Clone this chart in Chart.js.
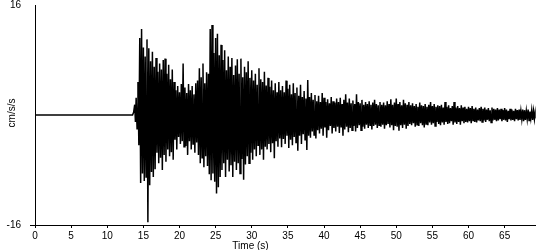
<!DOCTYPE html>
<html>
<head>
<meta charset="utf-8">
<script src="https://cdn.jsdelivr.net/npm/chart.js@4/dist/chart.umd.min.js"></script>
<style>
  html, body { margin: 0; padding: 0; background: #fff; }
  #wrap { width: 550px; height: 250px; }
</style>
</head>
<body>
<div id="wrap"><canvas id="c" width="550" height="250"></canvas></div>
<script>
// ---- data ----
const xTitle = 'Time (s)';
const yTitle = 'cm/s/s';
const xTicks = [0, 5, 10, 15, 20, 25, 30, 35, 40, 45, 50, 55, 60, 65];
const yTicks = [-16, 16];
const xMin = 0, xMax = 69.3, yMin = -16, yMax = 16;

// quiet part before the arrival: [time, value]
const preTimes  = [0, 13.5, 13.65, 13.8, 13.9];
const preValues = [0, 0, 0.4, 1.5, -1.0];

// strong motion, sampled every 0.25 s from 14.0 s: positive peaks and negative troughs
const startTime = 14.0;
const step = 0.25;
const peaks = [
  2.5, 4.8, 11.2, 12.5, 9.8, 8.5, 11.0, 9.7,
  7.8, 9.2, 7.0, 8.3, 6.3, 7.5, 6.6, 8.0,
  8.2, 6.0, 7.3, 5.2, 6.6, 4.8, 3.6, 4.2,
  3.3, 4.5, 7.5, 4.0, 3.2, 4.5, 3.6, 4.2,
  3.0, 4.6, 5.0, 6.8, 5.5, 7.5, 4.6, 6.2,
  6.0, 12.5, 13.1, 9.0, 11.2, 11.8, 8.7, 10.2,
  8.0, 9.4, 6.5, 8.5, 7.0, 8.3, 5.8, 7.2,
  8.1, 6.0, 8.2, 5.5, 7.0, 6.2, 7.8, 5.4,
  6.5, 5.0, 6.0, 4.4, 6.8, 5.2, 4.8, 6.3,
  4.3, 5.4, 4.1, 5.0, 3.6, 4.6, 3.3, 4.8,
  3.6, 4.2, 3.3, 5.0, 3.8, 4.4, 3.0, 4.6,
  3.2, 4.0, 2.8, 4.4, 2.6, 3.5, 2.4, 5.1,
  2.6, 3.2, 2.2, 2.9, 2.0, 2.8, 1.9, 3.2,
  2.5, 1.9, 2.3, 1.7, 2.6, 2.0, 1.8, 2.4,
  1.9, 2.5, 1.6, 2.2, 3.0, 1.8, 2.4, 1.7,
  2.1, 1.6, 3.0, 1.9, 1.7, 2.2, 1.5, 1.9,
  1.6, 2.0, 1.5, 1.8, 2.2, 1.6, 1.4, 1.9,
  1.5, 1.8, 1.4, 2.0, 1.6, 2.3, 1.5, 1.8,
  2.4, 1.6, 1.9, 1.4, 2.2, 1.7, 1.5, 1.9,
  1.4, 1.7, 1.3, 1.6, 1.2, 1.8, 1.4, 1.3,
  1.6, 1.2, 1.5, 1.9, 1.3, 1.6, 1.2, 1.4,
  1.3, 1.5, 1.1, 1.9, 1.2, 1.4, 1.0, 1.3,
  1.9, 1.1, 1.3, 1.0, 1.4, 1.1, 1.2, 0.9,
  1.2, 1.0, 1.3, 0.9, 1.1, 0.8, 1.0, 1.2,
  0.9, 1.1, 0.8, 1.0, 0.7, 1.1, 0.9, 0.8,
  1.0, 0.8, 0.9, 0.7, 1.0, 0.8, 0.6, 0.9,
  0.8, 0.6, 0.9, 0.7, 0.8, 0.6, 0.8, 0.7,
  0.6, 0.8, 0.5, 0.7, 0.6, 0.5
];
const troughs = [
  -2.0, -4.4, -9.9, -8.5, -9.6, -9.0, -15.6, -10.2,
  -8.3, -9.0, -7.9, -5.5, -7.0, -6.2, -8.0, -5.8,
  -6.8, -5.0, -6.0, -5.4, -6.5, -3.6, -5.0, -3.2,
  -4.2, -3.8, -4.6, -4.5, -5.8, -3.8, -5.0, -4.2,
  -5.5, -4.0, -5.8, -7.0, -6.2, -7.6, -6.0, -7.4,
  -8.6, -9.5, -8.5, -9.7, -11.4, -10.5, -9.0, -8.0,
  -7.0, -9.0, -6.5, -8.2, -7.3, -9.0, -6.8, -8.0,
  -7.0, -8.5, -6.4, -9.4, -7.2, -6.0, -7.0, -5.5,
  -6.5, -5.0, -6.0, -4.4, -5.8, -5.0, -6.5, -4.6,
  -5.0, -4.2, -5.4, -4.1, -6.3, -3.8, -4.6, -3.4,
  -4.7, -3.5, -4.2, -3.0, -4.8, -3.6, -4.4, -3.2,
  -4.0, -5.2, -3.0, -4.2, -2.8, -3.6, -5.1, -3.0,
  -3.3, -2.4, -2.9, -3.4, -2.2, -2.7, -2.0, -3.0,
  -1.8, -3.3, -2.2, -1.6, -2.7, -1.9, -2.4, -1.7,
  -2.6, -1.8, -3.0, -2.1, -1.7, -2.5, -1.9, -2.2,
  -1.6, -2.4, -1.9, -1.5, -2.2, -1.7, -2.0, -1.4,
  -1.9, -1.5, -2.1, -1.6, -1.4, -1.9, -1.5, -1.7,
  -1.4, -2.0, -1.5, -1.3, -1.8, -1.5, -2.2, -1.6,
  -1.7, -2.3, -1.5, -1.9, -1.4, -2.0, -1.6, -1.3,
  -1.5, -1.2, -1.7, -1.4, -1.6, -1.2, -1.5, -1.8,
  -1.3, -1.5, -1.1, -1.4, -1.2, -1.6, -1.0, -1.3,
  -1.5, -1.1, -1.4, -1.0, -1.3, -1.2, -0.9, -1.4,
  -1.1, -1.3, -1.0, -1.4, -0.9, -1.2, -1.0, -1.1,
  -0.9, -1.2, -0.8, -1.0, -1.1, -0.8, -0.9, -1.0,
  -0.8, -1.0, -0.7, -0.9, -1.1, -0.8, -0.7, -0.9,
  -0.8, -0.6, -0.9, -0.7, -0.8, -1.0, -0.6, -0.8,
  -0.7, -0.9, -0.6, -0.8, -0.7, -0.6, -0.9, -0.7,
  -0.6, -0.8, -0.5, -0.7, -0.6, -0.5
];

// ---- build the point table from the arrays ----
const points = [];
preTimes.forEach((t, i) => points.push({ x: t, y: preValues[i] }));
peaks.forEach((p, i) => {
  const t = startTime + i * step;
  points.push({ x: t, y: p });
  points.push({ x: t + step / 2, y: troughs[i] });
});

const FONT = '"Liberation Sans", Arial, sans-serif';

const titlesPlugin = {
  id: 'axisTitles',
  afterDraw(chart) {
    const ctx = chart.ctx;
    const xs = chart.scales.x, ys = chart.scales.y;
    ctx.save();
    ctx.fillStyle = '#000';
    ctx.font = '10px ' + FONT;
    ctx.textAlign = 'center';
    ctx.textBaseline = 'middle';
    ctx.fillText(xTitle, xs.left + 215.5, xs.top + 21);
    ctx.translate(ys.left + 12.5, (ys.top + ys.bottom) / 2 - 2);
    ctx.rotate(-Math.PI / 2);
    ctx.fillText(yTitle, 0, 0);
    ctx.restore();
  }
};

new Chart(document.getElementById('c'), {
  type: 'line',
  data: {
    datasets: [{
      data: points,
      borderColor: '#000',
      borderWidth: 1.5,
      pointRadius: 0,
      tension: 0,
      fill: false
    }]
  },
  options: {
    responsive: false,
    animation: false,
    parsing: false,
    normalized: true,
    layout: { padding: { top: 5, right: 14.3, left: 0, bottom: 0 } },
    plugins: { legend: { display: false }, tooltip: { enabled: false } },
    scales: {
      x: {
        type: 'linear',
        min: xMin, max: xMax,
        afterBuildTicks: s => { s.ticks = xTicks.map(v => ({ value: v })); },
        afterFit: s => { s.height = 25; s.paddingLeft = 0; s.paddingRight = 0; },
        border: { display: true, color: '#000', width: 1 },
        grid: { drawOnChartArea: false, drawTicks: true, tickLength: 3, color: '#000', tickColor: '#000' },
        ticks: { color: '#000', font: { family: FONT, size: 10 }, padding: 2, maxRotation: 0, autoSkip: false }
      },
      y: {
        type: 'linear',
        min: yMin, max: yMax,
        afterBuildTicks: s => { s.ticks = yTicks.map(v => ({ value: v })); },
        afterFit: s => { s.width = 35; s.paddingTop = 0; s.paddingBottom = 0; },
        border: { display: true, color: '#000', width: 1 },
        grid: {
          drawOnChartArea: false, drawTicks: true, tickLength: 5, color: '#000',
          tickColor: c => (c.tick && c.tick.value === -16 ? '#000' : 'rgba(0,0,0,0)')
        },
        ticks: { color: '#000', font: { family: FONT, size: 10 }, padding: 9, autoSkip: false }
      }
    }
  },
  plugins: [titlesPlugin]
});
</script>
</body>
</html>
